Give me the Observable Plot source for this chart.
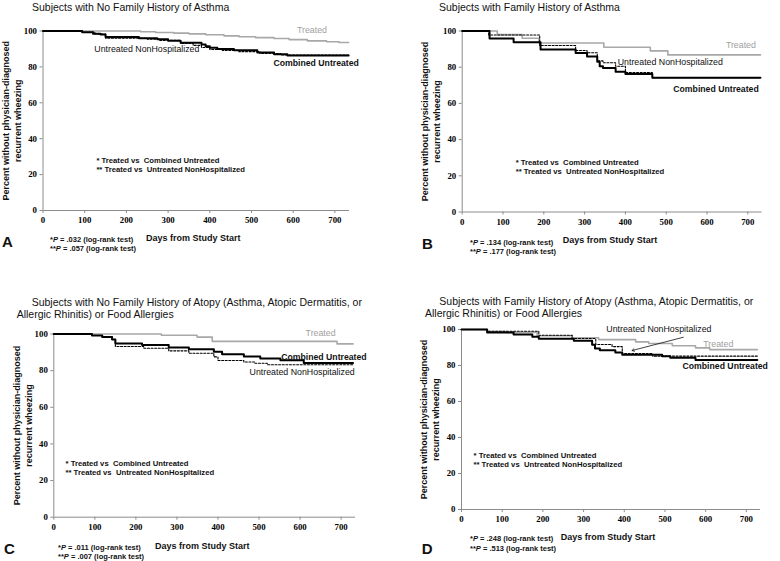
<!DOCTYPE html>
<html><head><meta charset="utf-8">
<script src="https://cdn.jsdelivr.net/npm/d3@7"></script>
<script src="https://cdn.jsdelivr.net/npm/@observablehq/plot@0.6"></script>
<style>
body{margin:0;background:#fff;}
#wrap{position:relative;width:780px;height:561px;overflow:hidden;font-family:"Liberation Sans",Arial,sans-serif;color:#111;}
.t{position:absolute;white-space:nowrap;line-height:1;}
.title{font-size:10.5px;line-height:12.5px;}
.letter{font-size:15px;font-weight:bold;}
.pv{font-size:7.5px;font-weight:bold;line-height:9.4px;}
.xt{font-size:9px;font-weight:bold;}
.svgbox{position:absolute;}
</style></head><body><div id="wrap"></div>
<script>
// ---------- data ----------
const xTicks = [0, 100, 200, 300, 400, 500, 600, 700];
const yTicks = [0, 20, 40, 60, 80, 100];
const seriesNames = ["Treated", "Combined Untreated", "Untreated NonHospitalized"];
const yTitle = ["Percent without physician-diagnosed", "recurrent wheezing"];
const xTitle = "Days from Study Start";
const annotLines = ["* Treated vs  Combined Untreated", "** Treated vs  Untreated NonHospitalized"];

// [day, percent] step points
const A_treated = [[0,100],[234,99.6],[270,99.2],[314,98.8],[350,98.4],[390,97.9],[434,97.3],[470,96.8],[510,96.3],[554,95.8],[590,95.2],[634,94.5],[680,94],[710,93.6],[733,93.6]];
const A_combined = [[0,100],[94,99.3],[120,98.5],[138,98],[150,96.7],[230,96],[274,95.4],[300,94.5],[330,93.5],[380,92.5],[390,91.5],[400,90.7],[418,90],[458,89.3],[514,88],[554,87],[586,86.3],[733,86.3]];
const A_nonhosp = [[0,100],[94,99.3],[125,98.3],[150,96],[250,95.5],[280,94.8],[330,93],[360,92],[380,90.8],[400,89.7],[430,89.2],[470,88.5],[520,87.5],[570,86.6],[733,86.6]];

const B_treated = [[0,100],[86,98],[147,96],[188,93.4],[347,91],[461,89],[504,86.8],[731,86.8]];
const B_combined = [[0,100],[67,95.8],[126,93.8],[192,89.8],[278,87.9],[306,85.9],[331,83],[337,80.5],[345,79.5],[376,77.5],[400,76.3],[466,74.2],[731,74.2]];
const B_nonhosp = [[0,100],[65,97.8],[190,92],[278,89.2],[306,88],[331,83.5],[345,82.5],[376,80.5],[400,77],[466,74.2],[731,74.2]];

const C_treated = [[0,100],[262,99.3],[349,98.3],[386,96],[690,94.6],[729,94.6]];
const C_combined = [[0,100],[93,99.2],[118,98.3],[142,97],[150,94.8],[215,94],[280,92.6],[329,91.7],[390,90.3],[410,89],[463,87.7],[503,86.6],[552,85.7],[609,84.2],[729,84.2]];
const C_nonhosp = [[0,100],[93,99.2],[118,98.3],[142,97],[150,93.2],[219,92.2],[280,90.8],[329,89.5],[390,87.5],[400,85.5],[463,84.7],[490,84],[520,83.2],[729,83.2]];

const D_treated = [[0,100],[63,98.8],[110,98.3],[186,96.5],[272,95.4],[337,94.4],[428,93.1],[460,92.2],[518,91],[575,89.8],[610,88.8],[727,88.8]];
const D_combined = [[0,100],[63,98.3],[128,97.2],[174,96],[190,94.8],[276,93.7],[321,91.5],[328,89.5],[340,88.5],[378,87.2],[395,86],[493,85.2],[513,84.3],[575,83],[727,83]];
const D_nonhosp = [[0,100],[63,99],[190,96.8],[272,95],[330,91.7],[370,90.5],[395,86.6],[470,85.2],[727,85.2]];

const titles = {
  A: "Subjects with No Family History of Asthma",
  B: "Subjects with Family History of Asthma",
  C: "Subjects with No Family History of Atopy (Asthma, Atopic Dermatitis, or<br>Allergic Rhinitis) or Food Allergies",
  D: "Subjects with Family History of Atopy (Asthma, Atopic Dermatitis, or<br>Allergic Rhinitis) or Food Allergies"
};
const pValues = {A: [".032", ".057"], B: [".134", ".177"], C: [".011", ".007"], D: [".248", ".513"]};

// ---------- layout ----------
const panels = [
  {id:"A", data:[A_treated, A_combined, A_nonhosp], box:{left:0, top:0, width:390, height:236, mL:42.5, mT:30.5, mB:26, mR:41},
   lab:{treated:[645,100.6], combined:[655,82.2], nonhosp:[249,90], annot:[128,28,23]},
   title:{left:32, top:1, indent:0}, letter:{left:2, top:233.5}, pv:{left:50, top:235}, xt:{left:146, top:233.6}},
  {id:"B", data:[B_treated, B_combined, B_nonhosp], box:{left:390, top:0, width:390, height:236, mL:71.7, mT:30.5, mB:24.5, mR:18.4},
   lab:{treated:[683,92], combined:[622,67.8], nonhosp:[510,82.8], annot:[131,27.3,22.4]},
   title:{left:439, top:1, indent:0}, letter:{left:422, top:235.5}, pv:{left:470, top:238}, xt:{left:562.7, top:236.3}},
  {id:"C", data:[C_treated, C_combined, C_nonhosp], box:{left:0, top:320, width:390, height:222, mL:53.3, mT:13.5, mB:25.3, mR:35},
   lab:{treated:[650,100.3], combined:[658,87.6], nonhosp:[605,79], annot:[28.5,29.1,24.2]},
   title:{left:16.7, top:295.5, indent:15}, letter:{left:4, top:540.5}, pv:{left:58, top:543}, xt:{left:155, top:542.3}},
  {id:"D", data:[D_treated, D_combined, D_nonhosp], box:{left:390, top:320, width:390, height:216, mL:71, mT:9, mB:27, mR:19.9},
   lab:{treated:[631,92], combined:[648,79.6], nonhosp:[485,100], annot:[29.5,30,25], arrow:[545,95.7,419,88.3]},
   title:{left:425, top:294.6, indent:14.3}, letter:{left:421.7, top:540.5}, pv:{left:470, top:534.3}, xt:{left:560.7, top:532.9}}
];

const SANS = "Liberation Sans, Arial, sans-serif";
const SERIF = "Liberation Serif, Times New Roman, serif";
const wrap = document.getElementById("wrap");

function addText(cls, left, top, html, extra) {
  const d = document.createElement("div");
  d.className = "t " + cls;
  d.style.left = left + "px";
  d.style.top = top + "px";
  if (extra) Object.assign(d.style, extra);
  d.innerHTML = html;
  wrap.appendChild(d);
}

for (const p of panels) {
  const [tr, cu, nh] = p.data;
  const b = p.box;
  const X = d => d[0], Y = d => d[1];
  const marks = [
    Plot.ruleY([0], {stroke: "#8c8c8c", strokeWidth: 1}),
    Plot.ruleX([0], {stroke: "#8c8c8c", strokeWidth: 1}),
    Plot.axisX({ticks: xTicks, tickSize: 3, tickPadding: 3.5, stroke: "#8c8c8c", color: "#000", fill: "#000",
      fontFamily: SERIF, fontWeight: "bold", fontSize: 8.8, label: null}),
    Plot.axisY({ticks: yTicks, tickSize: 3, tickPadding: 3, stroke: "#8c8c8c", color: "#000", fill: "#000",
      fontFamily: SERIF, fontWeight: "bold", fontSize: 8.8, label: null}),
    Plot.line(tr, {x: X, y: Y, curve: "step-after", stroke: "#a8a8a8", strokeWidth: 1.6}),
    Plot.line(cu, {x: X, y: Y, curve: "step-after", stroke: "#000", strokeWidth: 2}),
    Plot.line(nh, {x: X, y: Y, curve: "step-after", stroke: "#000", strokeWidth: 1.1, strokeDasharray: "2,1.6"}),
    Plot.text([yTitle[0]], {text: d => d, frameAnchor: "left", dx: -37, rotate: -90, textAnchor: "middle",
      fontFamily: SANS, fontWeight: "bold", fontSize: 9, fill: "#111"}),
    Plot.text([yTitle[1]], {text: d => d, frameAnchor: "left", dx: -25, rotate: -90, textAnchor: "middle",
      fontFamily: SANS, fontWeight: "bold", fontSize: 9, fill: "#111"}),
    Plot.text([seriesNames[0]], {text: d => d, x: () => p.lab.treated[0], y: () => p.lab.treated[1],
      fontFamily: SANS, fontSize: 8.8, fill: "#a0a0a0"}),
    Plot.text([seriesNames[1]], {text: d => d, x: () => p.lab.combined[0], y: () => p.lab.combined[1],
      fontFamily: SANS, fontSize: 8.7, fontWeight: "bold", fill: "#111"}),
    Plot.text([seriesNames[2]], {text: d => d, x: () => p.lab.nonhosp[0], y: () => p.lab.nonhosp[1],
      fontFamily: SANS, fontSize: 8.8, fill: "#111"}),
    Plot.text([annotLines[0]], {text: d => d, x: () => p.lab.annot[0], y: () => p.lab.annot[1], textAnchor: "start",
      fontFamily: SANS, fontSize: 7.7, fontWeight: "bold", fill: "#111"}),
    Plot.text([annotLines[1]], {text: d => d, x: () => p.lab.annot[0], y: () => p.lab.annot[2], textAnchor: "start",
      fontFamily: SANS, fontSize: 7.7, fontWeight: "bold", fill: "#111"})
  ];
  if (p.lab.arrow) {
    const a = p.lab.arrow;
    marks.push(Plot.arrow([a], {x1: d => d[0], y1: d => d[1], x2: d => d[2], y2: d => d[3],
      stroke: "#111", strokeWidth: 0.8, headLength: 5}));
  }
  const svg = Plot.plot({
    width: b.width, height: b.height,
    marginLeft: b.mL, marginTop: b.mT, marginBottom: b.mB, marginRight: b.mR,
    x: {domain: [0, 735]}, y: {domain: [0, 100]},
    style: {background: "transparent", overflow: "visible", color: "#111"},
    marks
  });
  const holder = document.createElement("div");
  holder.className = "svgbox";
  holder.style.left = b.left + "px";
  holder.style.top = b.top + "px";
  holder.appendChild(svg);
  wrap.appendChild(holder);

  addText("title", p.title.left, p.title.top, titles[p.id], {textIndent: p.title.indent + "px"});
  addText("letter", p.letter.left, p.letter.top, p.id);
  addText("pv", p.pv.left, p.pv.top,
    `*<i>P</i> = ${pValues[p.id][0]} (log-rank test)<br>**<i>P</i> = ${pValues[p.id][1]} (log-rank test)`);
  addText("xt", p.xt.left, p.xt.top, xTitle);
}
</script></body></html>
